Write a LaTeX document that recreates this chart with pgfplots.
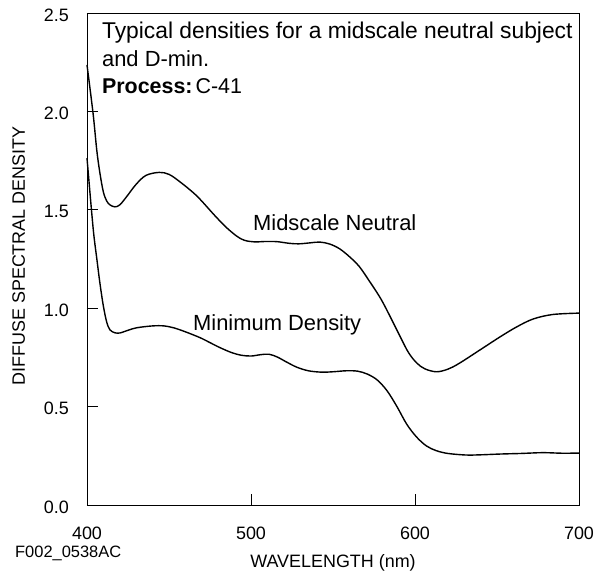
\documentclass[border=0pt]{standalone}
\usepackage{fontspec}
\setmainfont{Liberation Sans}
\usepackage{pgfplots}
\pgfplotsset{compat=1.18}
\begin{document}
\begin{tikzpicture}
\begin{axis}[
  scale only axis,
  width=492bp, height=492bp,
  xmin=400, xmax=700, ymin=0, ymax=2.5,
  xtick={400,500,600,700},
  ytick={0,0.5,1,1.5,2,2.5},
  yticklabels={0.0,0.5,1.0,1.5,2.0,2.5},
  xtick pos=bottom, ytick pos=left,
  tick align=inside,
  major tick length=11bp,
  axis line style={line width=0.8bp},
  every tick/.style={line width=0.8bp, black},
  /pgf/number format/assume math mode=true,
  tick label style={font=\fontsize{18}{20}\selectfont},
  xticklabel style={anchor=north, inner sep=0pt, yshift=-22bp},
  yticklabel style={anchor=east, inner sep=0pt, xshift=-18bp, yshift=-2bp},
  every axis x label/.style={at={(rel axis cs:0.5,0)}, anchor=base, yshift=-62.5bp, font=\fontsize{18}{20}\selectfont},
  every axis y label/.style={at={(rel axis cs:0,0.5)}, anchor=base, xshift=-62bp, yshift=3bp, rotate=90, font=\fontsize{18}{20}\selectfont},
  xlabel={WAVELENGTH (nm)},
  ylabel={DIFFUSE SPECTRAL DENSITY},
  clip=false,
]
\addplot[black, line width=1.4bp, smooth, tension=0.55] coordinates {
(400,2.236) (403.7,1.99) (406,1.80) (408,1.68) (410,1.59) (412,1.545)
(414,1.525) (417,1.515) (420,1.525) (424,1.565) (430,1.63) (436,1.675)
(444,1.69) (450,1.68) (457,1.64) (467,1.57) (478,1.47) (485,1.41) (491.5,1.365)
(496,1.345) (502,1.337) (509,1.339) (516,1.338) (523,1.330) (529,1.327) (536,1.332)
(542,1.336) (548,1.326) (554,1.302) (560,1.262) (566,1.212) (572,1.14) (579,1.05)
(585,0.955) (591,0.855) (596,0.775) (601,0.722) (606,0.692) (613,0.677) (620,0.69)
(627,0.72) (640,0.79) (652,0.855) (662,0.905) (672,0.945) (684,0.968) (700,0.975)
};
\addplot[black, line width=1.4bp, smooth, tension=0.55] coordinates {
(400,1.763) (403.7,1.41) (406,1.25) (408,1.12) (410,1.01) (412,0.93)
(414,0.89) (417,0.875) (420,0.874) (423,0.882) (430,0.90) (440,0.91) (447,0.91)
(453,0.90) (460,0.88) (469,0.85) (475,0.825) (481,0.80) (488,0.775) (494,0.761)
(500,0.757) (506,0.764) (511,0.766) (516,0.752) (522,0.725) (528,0.70) (535,0.682)
(543,0.675) (550,0.677) (558,0.682) (565,0.680) (571,0.665) (577,0.635) (583,0.58)
(589,0.50) (595,0.41) (601,0.345) (607,0.30) (613,0.276) (620,0.262) (631,0.254)
(640,0.255) (652,0.259) (665,0.262) (678,0.266) (690,0.263) (700,0.264)
};
\node[anchor=base west, inner sep=0pt, font=\fontsize{22.9}{26}\selectfont] at (axis cs:409.1,2.371) {Typical densities for a midscale neutral subject};
\node[anchor=base west, inner sep=0pt, font=\fontsize{22}{26}\selectfont] at (axis cs:409.1,2.227) {and D-min.};
\node[anchor=base west, inner sep=0pt, font=\fontsize{21.5}{26}\selectfont] at (axis cs:409.1,2.092) {\textbf{Process:}\hspace{3bp}C-41};
\node[anchor=base west, inner sep=0pt, font=\fontsize{22}{26}\selectfont] at (axis cs:501.2,1.397) {Midscale Neutral};
\node[anchor=base west, inner sep=0pt, font=\fontsize{22}{26}\selectfont] at (axis cs:464.6,0.889) {Minimum Density};
\node[anchor=base west, inner sep=0pt, font=\fontsize{16.5}{18}\selectfont, xshift=-72bp, yshift=-52.7bp] at (rel axis cs:0,0) {F002\_0538AC};
\coordinate (SW) at (rel axis cs:0,0);
\coordinate (NE) at (rel axis cs:1,1);
\end{axis}
\pgfresetboundingbox
\path[use as bounding box] ([xshift=-87bp,yshift=-68bp]SW) rectangle ([xshift=16bp,yshift=13bp]NE);
\end{tikzpicture}
\end{document}
